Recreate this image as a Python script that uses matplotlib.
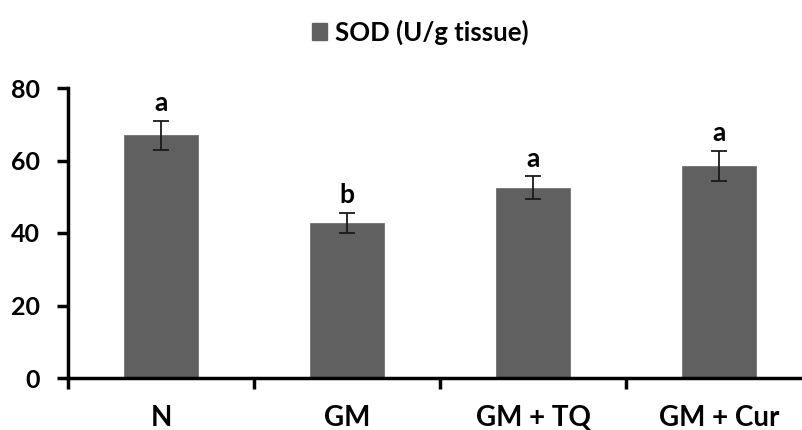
import matplotlib
matplotlib.use("Agg")
import matplotlib.pyplot as plt
from matplotlib.patches import Patch

categories = ["N", "GM", "GM + TQ", "GM + Cur"]
values = [67.0, 42.8, 52.5, 58.5]
errors = [4.0, 2.8, 3.2, 4.2]
letters = ["a", "b", "a", "a"]
yticks = [0, 20, 40, 60, 80]
legend_label = "SOD (U/g tissue)"

plt.rcParams['font.family'] = ['Lato', 'DejaVu Sans']
plt.rcParams['font.weight'] = 'bold'

fig = plt.figure(figsize=(8.03, 4.30), dpi=100)
ax = fig.add_axes([68/803, 1-378/430, (800-68)/803, (378-88)/430])

bar_color = "#606060"
x = range(len(categories))
ax.bar(x, values, width=0.4, color=bar_color, edgecolor="#707070", linewidth=0.6, zorder=2)
ax.errorbar(x, values, yerr=errors, fmt='none', ecolor='#1a1a1a', elinewidth=1.3,
            capsize=6, capthick=1.3, zorder=3)
for xi, v, e, l in zip(x, values, errors, letters):
    ax.annotate(l, (xi, v + e), xytext=(0, 4), textcoords='offset points',
                ha='center', va='bottom', fontsize=19, fontweight='bold')

ax.set_xlim(-0.5, 3.435)
ax.set_ylim(0, 80)
ax.set_yticks(yticks)
ax.set_yticklabels([str(t) for t in yticks], fontsize=18, fontweight='bold')
ax.set_xticks([i + 0.5 for i in range(-1, 3)])
ax.set_xticklabels([])
ax.set_xticks(list(x), minor=True)
ax.set_xticklabels(categories, minor=True, fontsize=20, fontweight='bold')
ax.tick_params(axis='x', which='minor', length=0, pad=19.5)
ax.tick_params(axis='x', which='major', length=8, width=2.5, direction='out')
ax.tick_params(axis='y', length=8, width=2.5, direction='out', pad=12)

for s in ['top', 'right']:
    ax.spines[s].set_visible(False)
for s in ['left', 'bottom']:
    ax.spines[s].set_linewidth(2.5)

handle = Patch(facecolor=bar_color, edgecolor=bar_color)
fig.legend([handle], [legend_label], loc='center', bbox_to_anchor=(420/803, 1-32/430),
           frameon=False, prop={'size': 18.5, 'weight': 'bold'},
           handlelength=0.6, handleheight=0.6, handletextpad=0.3)

fig.savefig("out.png", dpi=100)
